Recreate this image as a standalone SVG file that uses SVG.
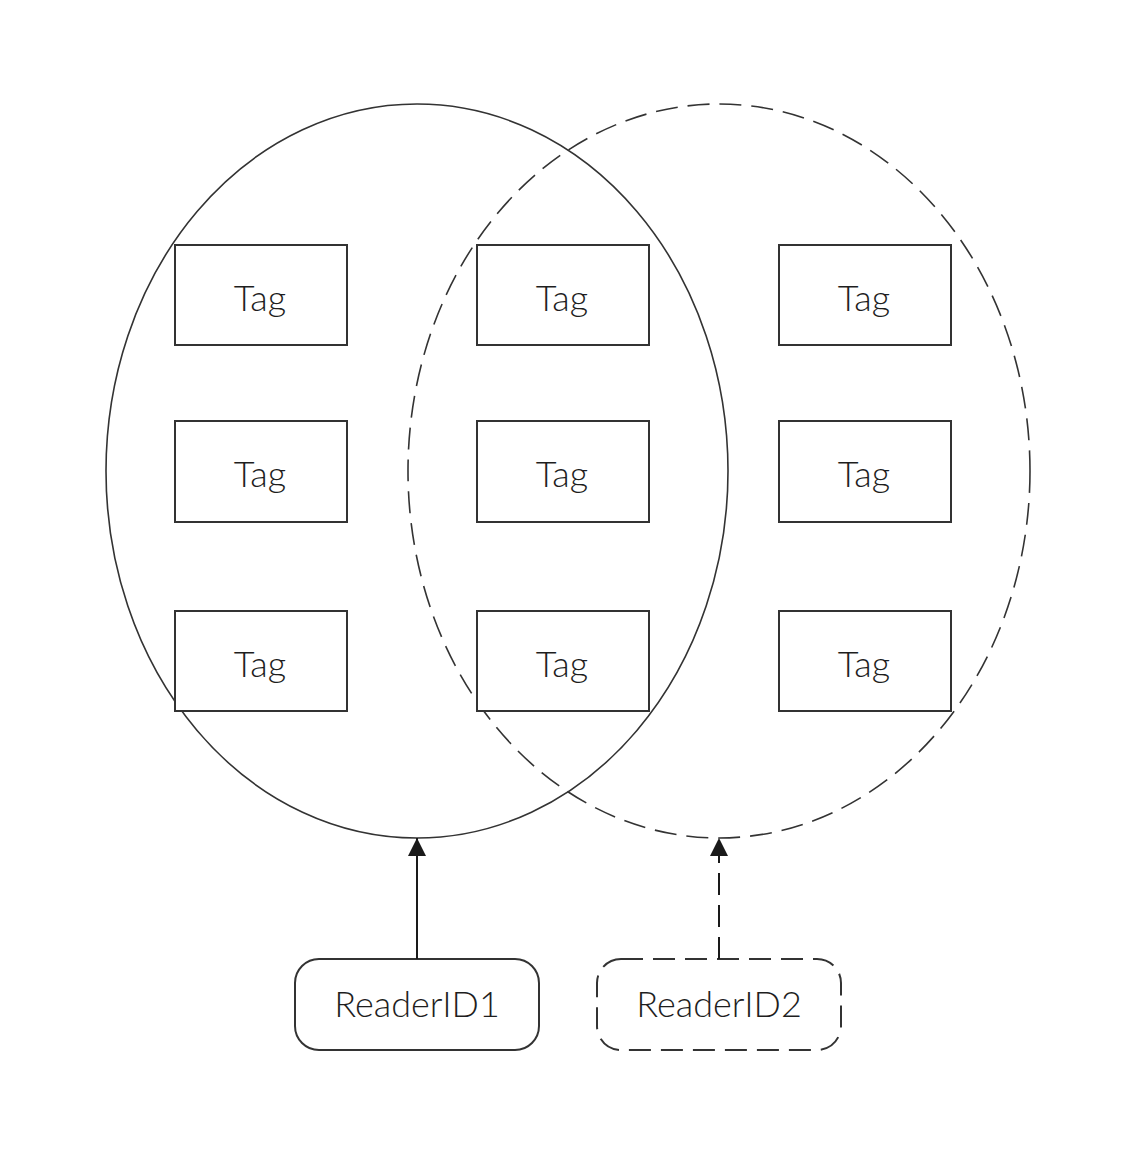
<svg xmlns="http://www.w3.org/2000/svg" width="1134" height="1154" viewBox="0 0 1134 1154">
<style>
.ell{fill:none;stroke:#333;stroke-width:1.6}
.dash{stroke-dasharray:22 10}
.tag{fill:#fff;stroke:#333;stroke-width:2}
.rd{fill:#fff;stroke:#333;stroke-width:2}
.lbl{font-family:Lato,Roboto,"Open Sans",sans-serif;font-weight:300;font-size:36px;fill:#1e1e1e;text-anchor:middle}
.conn{stroke:#1a1a1a;stroke-width:2;fill:none}
</style>
<defs>
<marker id="arr" markerWidth="18" markerHeight="18" refX="18" refY="9" orient="auto" markerUnits="userSpaceOnUse" viewBox="0 0 18 18">
<path d="M0,0 L18,9 L0,18 Z" fill="#1a1a1a"/>
</marker>
</defs>
<rect width="1134" height="1154" fill="#fff"/>
<g id="set1"><ellipse class="ell" cx="417" cy="471" rx="311" ry="367"/></g>
<g id="set2"><ellipse class="ell dash" cx="719" cy="471" rx="311" ry="367"/></g>
<g id="tag1"><rect class="tag" x="175" y="245" width="172" height="100"/><text class="lbl" x="260" y="311">Tag</text></g>
<g id="tag2"><rect class="tag" x="477" y="245" width="172" height="100"/><text class="lbl" x="562" y="311">Tag</text></g>
<g id="tag3"><rect class="tag" x="779" y="245" width="172" height="100"/><text class="lbl" x="864" y="311">Tag</text></g>
<g id="tag4"><rect class="tag" x="175" y="421" width="172" height="101"/><text class="lbl" x="260" y="487">Tag</text></g>
<g id="tag5"><rect class="tag" x="477" y="421" width="172" height="101"/><text class="lbl" x="562" y="487">Tag</text></g>
<g id="tag6"><rect class="tag" x="779" y="421" width="172" height="101"/><text class="lbl" x="864" y="487">Tag</text></g>
<g id="tag7"><rect class="tag" x="175" y="611" width="172" height="100"/><text class="lbl" x="260" y="677">Tag</text></g>
<g id="tag8"><rect class="tag" x="477" y="611" width="172" height="100"/><text class="lbl" x="562" y="677">Tag</text></g>
<g id="tag9"><rect class="tag" x="779" y="611" width="172" height="100"/><text class="lbl" x="864" y="677">Tag</text></g>
<g id="reader1"><rect class="rd" x="295" y="959" width="244" height="91" rx="24"/><text class="lbl" x="417" y="1017">ReaderID1</text></g>
<g id="reader2"><rect class="rd dash" x="597" y="959" width="244" height="91" rx="24"/><text class="lbl" x="719" y="1017">ReaderID2</text></g>
<g id="connectors">
<line class="conn" x1="417" y1="959" x2="417" y2="838" marker-end="url(#arr)"/>
<line class="conn dash" x1="719" y1="959" x2="719" y2="838" marker-end="url(#arr)"/>
</g>
</svg>
